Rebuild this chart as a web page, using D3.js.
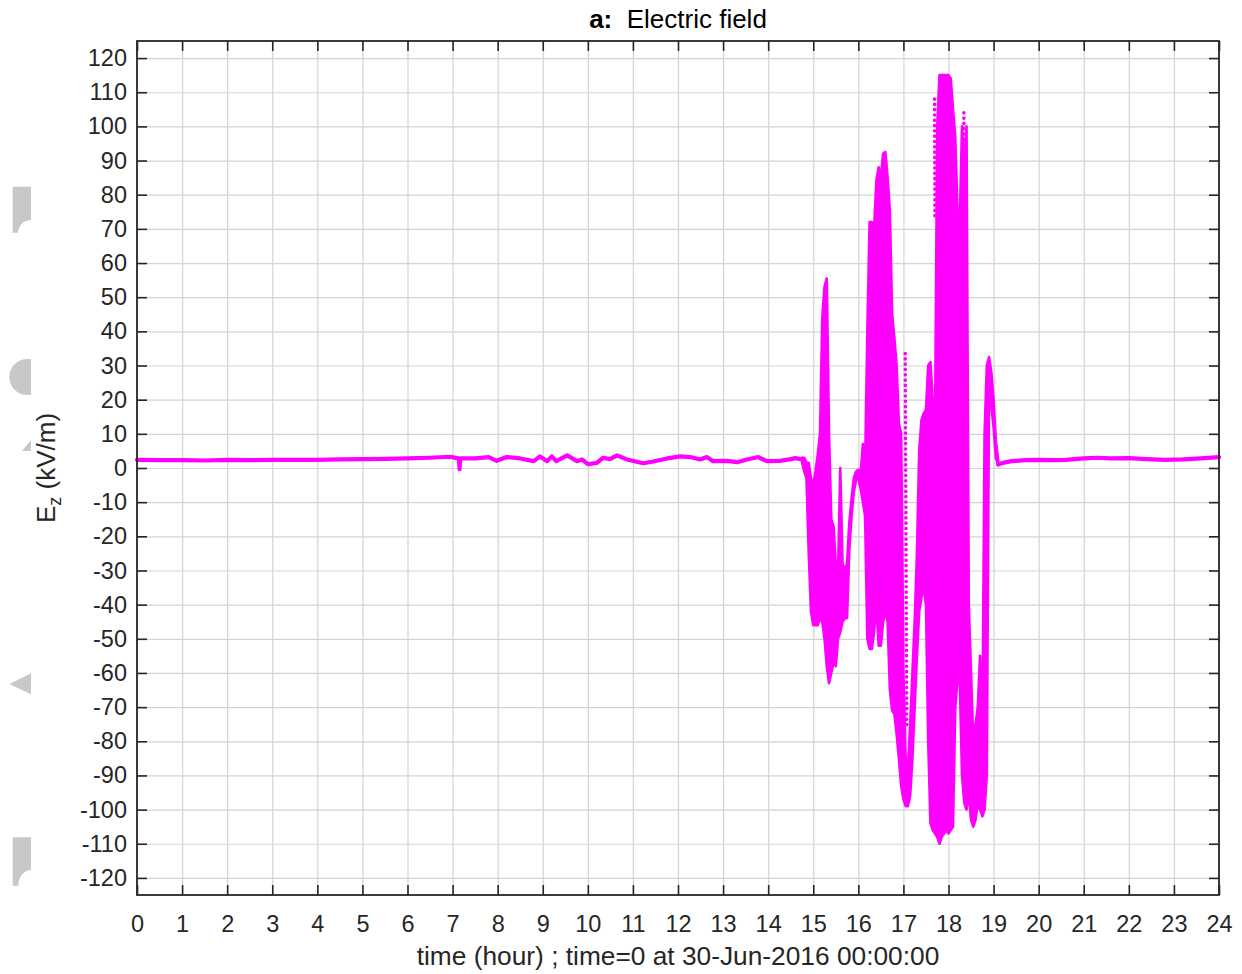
<!DOCTYPE html>
<html><head><meta charset="utf-8">
<script src="https://cdn.jsdelivr.net/npm/d3@7"></script>
<style>body{margin:0;background:#fff} svg{display:block}</style>
</head><body>
<svg id="chart" width="1242" height="974"></svg>
<script>
// ---------- DATA ----------
const xTickValues = [0,1,2,3,4,5,6,7,8,9,10,11,12,13,14,15,16,17,18,19,20,21,22,23,24];
const yTickValues = [-120,-110,-100,-90,-80,-70,-60,-50,-40,-30,-20,-10,0,10,20,30,40,50,60,70,80,90,100,110,120];

// fair-weather field before the storm (hour, kV/m)
const quietTimeA = [0,0.5,1,1.5,2,2.5,3,3.5,4,4.5,5,5.5,6,6.5,6.94,7.1,7.14,7.155,7.17,7.3,7.5,7.8,7.98,8.2,8.5,8.8,8.94,9.1,9.2,9.3,9.54,9.76,9.87,10.0,10.2,10.34,10.49,10.65,10.87,11.23,11.45,11.76,12.05,12.27,12.49,12.64,12.78,13.09,13.31,13.53,13.78,13.97,14.26,14.5,14.6,14.75];
const quietValueA = [2.4,2.3,2.3,2.2,2.4,2.3,2.4,2.4,2.4,2.5,2.6,2.7,2.8,3.0,3.3,2.9,2.8,-0.3,2.8,2.8,2.8,3.2,2.1,3.2,2.8,2.0,3.4,2.0,3.4,2.0,3.7,2.0,2.5,1.1,1.5,3.0,2.6,3.7,2.5,1.4,1.9,2.8,3.4,3.2,2.5,3.2,2.0,2.1,1.7,2.5,3.2,2.0,2.1,2.6,2.9,2.5];

// fair-weather field after the storm
const quietTimeB = [19.10,19.2,19.4,19.7,20,20.3,20.6,21,21.3,21.6,22,22.4,22.8,23.2,23.6,24];
const quietValueB = [1.0,1.5,2.0,2.3,2.4,2.3,2.4,2.8,3.0,2.8,2.9,2.6,2.4,2.5,2.8,3.2];

// storm period: min / max of the field in each 0.05 h bin
const stormTime = [14.75,14.80,14.85,14.90,14.95,15.00,15.05,15.10,15.15,15.20,15.25,15.30,15.35,15.40,15.45,15.50,15.55,15.60,15.65,15.70,15.75,15.80,15.85,15.90,15.95,16.00,16.05,16.10,16.15,16.20,16.25,16.30,16.35,16.40,16.45,16.50,16.55,16.60,16.65,16.70,16.75,16.80,16.85,16.90,16.95,17.00,17.05,17.10,17.15,17.20,17.25,17.30,17.35,17.40,17.45,17.50,17.55,17.60,17.65,17.70,17.75,17.80,17.85,17.90,17.95,18.00,18.05,18.10,18.15,18.20,18.25,18.30,18.35,18.40,18.45,18.50,18.55,18.60,18.65,18.70,18.75,18.80,18.85,18.90,18.95,19.00,19.05,19.10];
const stormMin = [1.8,-1,-3,-25,-42,-46,-46,-46,-44,-45,-50,-58,-63,-60,-57,-58,-50,-48,-45,-44,-44,-24,-14,-7,-3.5,-3,-6,-10,-14,-50,-53,-53,-48,-40,-52,-52,-45,-42,-45,-65,-71,-72,-78,-85,-93,-97,-99,-99,-96,-85,-70,-55,-42,-38,-35,-40,-80,-104,-106,-107,-108,-110,-108,-107,-106,-107,-106,-105,-70,-62,-62,-90,-98,-100,-95,-103,-105,-103,-98,-100,-102,-100,-90,25,18,12,3,1];
const stormMax = [3.0,3,1.5,1.5,-3,-5,-1,4,10,44,53,55.5,10,-15,-17,-28,-30,0,-28,-30,-28,-16,-9,-3,-1,-0.5,-2,7,0,40,72,72,70,84,88,85,92,92.5,85,75,45,38,30,13,10,-60,-85,-88,-75,-60,-45,-25,5,14,16,17,30,31,20,10,100,115,115,115,115,115,114,105,97,75,72,100,88,100,-40,-60,-80,-75,-70,-55,-80,10,30,32.5,28,20,8,2.5];

// sparse dotted swings (start hour, end hour, start value, end value)
const dotStartTime = [17.04, 17.69, 18.34];
const dotEndTime   = [17.075, 17.70, 18.345];
const dotStartValue = [33.5, 108, 104];
const dotEndValue   = [-76, 73, 86];

// ---------- DRAW ----------
const svg = d3.select("#chart");
const FONT = "'Liberation Sans', Arial, Helvetica, sans-serif";
const INK = "#262626";
const MAG = "#ff00ff";
const m = {left:137, right:1219, top:41, bottom:895};
const x = d3.scaleLinear().domain([0,24]).range([m.left, m.right]);
const y = d3.scaleLinear().domain([-125,125]).range([m.bottom, m.top]);
const fmt = d => String(d);

// left-edge grey artifacts
const art = svg.append("g").attr("fill","#c8c8c8");
art.append("path").attr("d","M12.7,186.7 L31,186.7 L31,220 A13,12.7 0 0 0 18,232.7 L12.7,232.7 Z");
art.append("path").attr("d","M31,359 L27.3,359 A18,18 0 0 0 27.3,395 L31,395 Z");
art.append("path").attr("d","M31,440 L22,451 L31,451 Z");
art.append("path").attr("d","M31,673.3 L9.3,684 L31,694.3 Z");
art.append("path").attr("d","M12.7,837.3 L31,837.3 L31,870 A12.7,15.7 0 0 0 18.3,885.7 L12.7,885.7 Z");

// grid
svg.append("g").attr("transform",`translate(0,${m.bottom})`)
  .call(d3.axisBottom(x).tickValues(xTickValues).tickSize(-(m.bottom-m.top)).tickFormat(""))
  .call(g=>{g.select(".domain").remove(); g.selectAll("line").attr("stroke","#d4d4d4").attr("stroke-width",1.2);});
svg.append("g").attr("transform",`translate(${m.left},0)`)
  .call(d3.axisLeft(y).tickValues(yTickValues).tickSize(-(m.right-m.left)).tickFormat(""))
  .call(g=>{g.select(".domain").remove(); g.selectAll("line").attr("stroke","#d4d4d4").attr("stroke-width",1.2);});

// data
const data = svg.append("g");
const line = d3.line().x(d=>x(d[0])).y(d=>y(d[1]));
data.append("path")
  .attr("d", line(quietTimeA.map((t,i)=>[t, quietValueA[i]])))
  .attr("fill","none").attr("stroke",MAG).attr("stroke-width",4.2).attr("stroke-linejoin","round").attr("stroke-linecap","round");
data.append("path")
  .attr("d", line(quietTimeB.map((t,i)=>[t, quietValueB[i]])))
  .attr("fill","none").attr("stroke",MAG).attr("stroke-width",4.2).attr("stroke-linejoin","round").attr("stroke-linecap","round");

const idx = stormTime.map((t,i)=>i);
const area = d3.area().x(i=>x(stormTime[i])).y0(i=>y(stormMin[i])).y1(i=>y(stormMax[i]));
data.append("path").attr("d", area(idx))
  .attr("fill",MAG).attr("stroke",MAG).attr("stroke-width",2.6).attr("stroke-linejoin","round");

dotStartTime.forEach((t,i)=>{
  data.append("path")
    .attr("d", line([[t, dotStartValue[i]],[dotEndTime[i], dotEndValue[i]]]))
    .attr("fill","none").attr("stroke",MAG).attr("stroke-width",3.6)
    .attr("stroke-linecap","round").attr("stroke-dasharray","0.1,5.2");
});

// axes (inward ticks)
function styleAxis(g){
  g.select(".domain").remove();
  g.selectAll(".tick line").attr("stroke",INK).attr("stroke-width",1.6);
  g.selectAll("text").attr("fill",INK).style("font-family",FONT).style("font-size","23.5px");
}
svg.append("g").attr("transform",`translate(0,${m.bottom})`)
  .call(d3.axisBottom(x).tickValues(xTickValues).tickSizeInner(-10).tickSizeOuter(0).tickPadding(20).tickFormat(fmt))
  .call(styleAxis);
svg.append("g").attr("transform",`translate(0,${m.top})`)
  .call(d3.axisTop(x).tickValues(xTickValues).tickSizeInner(-10).tickSizeOuter(0).tickFormat(""))
  .call(styleAxis);
svg.append("g").attr("transform",`translate(${m.left},0)`)
  .call(d3.axisLeft(y).tickValues(yTickValues).tickSizeInner(-10).tickSizeOuter(0).tickPadding(10).tickFormat(fmt))
  .call(styleAxis);
svg.append("g").attr("transform",`translate(${m.right},0)`)
  .call(d3.axisRight(y).tickValues(yTickValues).tickSizeInner(-10).tickSizeOuter(0).tickFormat(""))
  .call(styleAxis);

svg.append("rect").attr("x",m.left).attr("y",m.top)
  .attr("width",m.right-m.left).attr("height",m.bottom-m.top)
  .attr("fill","none").attr("stroke",INK).attr("stroke-width",1.8);

// title
const title = svg.append("text").attr("x",(m.left+m.right)/2).attr("y",28)
  .attr("text-anchor","middle").attr("fill","#000")
  .style("font-family",FONT).style("font-size","26px");
title.append("tspan").attr("font-weight","bold").text("a:");
title.append("tspan").text("\u00a0\u00a0Electric field");

// x label
svg.append("text").attr("x",(m.left+m.right)/2).attr("y",965)
  .attr("text-anchor","middle").attr("fill",INK)
  .style("font-family",FONT).style("font-size","26.3px")
  .text("time (hour) ; time=0 at 30-Jun-2016 00:00:00");

// y label
const yl = svg.append("text").attr("transform","translate(55,468) rotate(-90)")
  .attr("text-anchor","middle").attr("fill",INK)
  .style("font-family",FONT).style("font-size","26px");
yl.append("tspan").text("E");
yl.append("tspan").attr("dy",6).style("font-size","18px").text("z");
yl.append("tspan").attr("dy",-6).text(" (kV/m)");
</script>
</body></html>
